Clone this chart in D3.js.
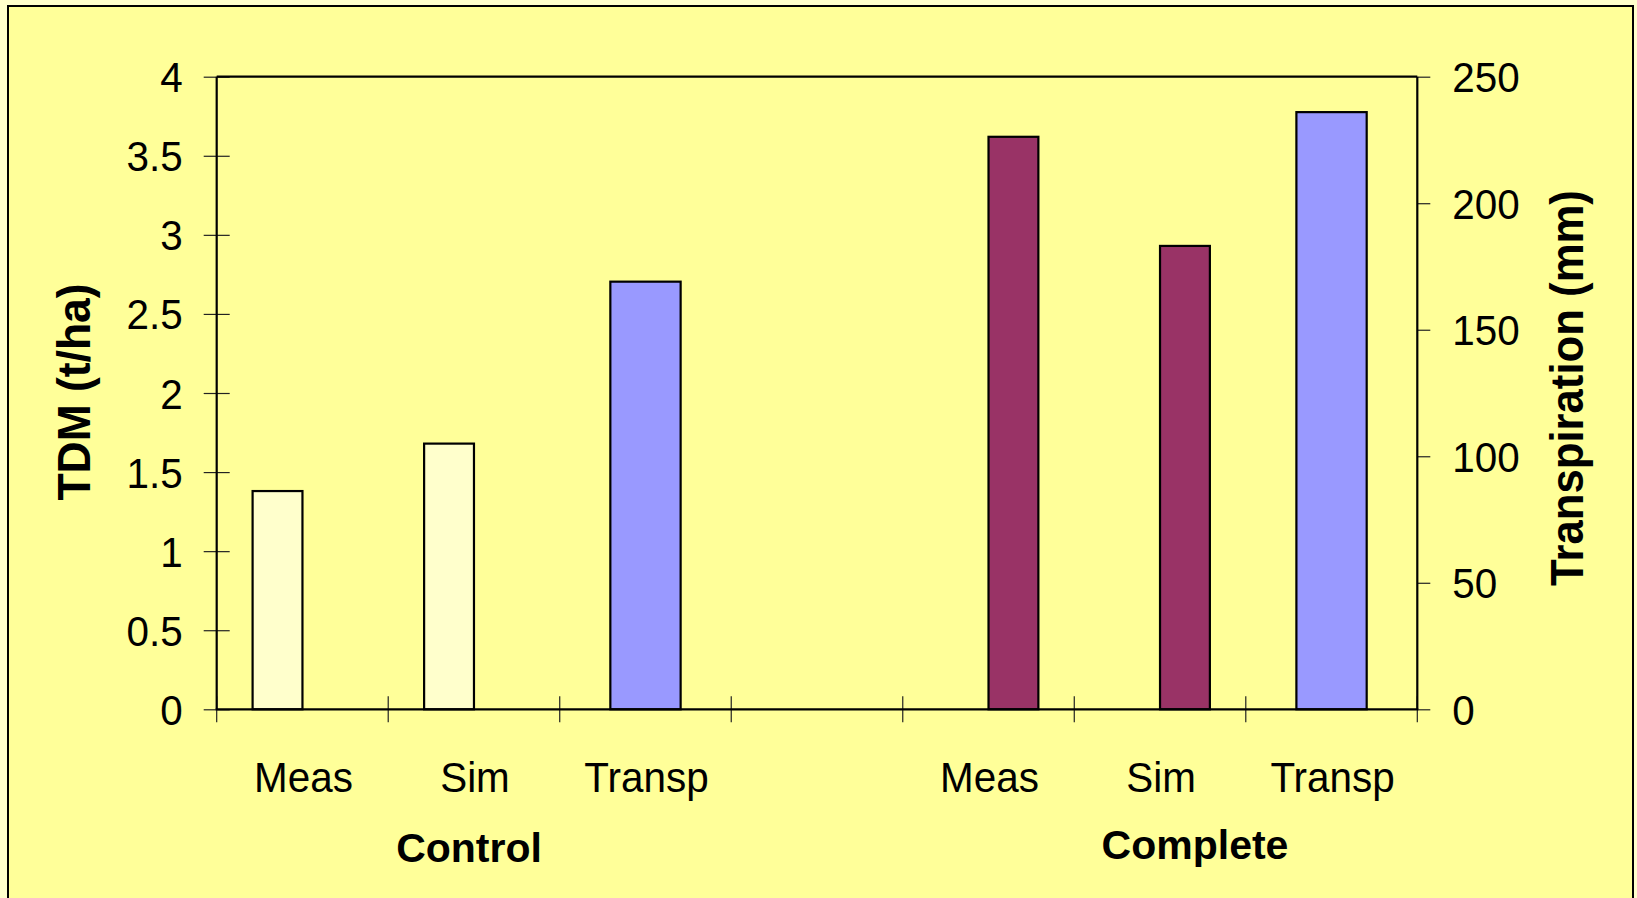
<!DOCTYPE html>
<html>
<head>
<meta charset="utf-8">
<script src="https://cdn.jsdelivr.net/npm/d3@7"></script>
<style>
  html, body { margin: 0; padding: 0; background: #FFFFCC; overflow: hidden; }
  svg { display: block; }
  text { font-family: "Liberation Sans", Arial, sans-serif; fill: #000; }
</style>
</head>
<body>
<svg id="chart" width="1637" height="898"></svg>
<script>
// ---- data ----
const slots = ["Control-Meas", "Control-Sim", "Control-Transp", "gap", "Complete-Meas", "Complete-Sim", "Complete-Transp"];
const slotLabels = ["Meas", "Sim", "Transp", "", "Meas", "Sim", "Transp"];
const groups = ["Control", "Complete"];
const tdmMeas = [1.38, 3.62];      // t/ha
const tdmSim = [1.68, 2.93];       // t/ha
const transpiration = [169, 236];  // mm
const tdmTicks = [0, 0.5, 1, 1.5, 2, 2.5, 3, 3.5, 4];
const transpTicks = [0, 50, 100, 150, 200, 250];
const groupColors = ["#FFFFCC", "#993366"];
const transpColor = "#9999FF";

// ---- layout ----
const W = 1637, H = 898;
const plot = { left: 216.7, right: 1417.3, top: 76.7, bottom: 709.3 };

const svg = d3.select("#chart");

// chart area with its frame
svg.append("rect")
  .attr("x", 8).attr("y", 6)
  .attr("width", 1625).attr("height", H + 20)
  .attr("fill", "#FFFF99")
  .attr("stroke", "#000").attr("stroke-width", 2);

// ---- scales ----
const x = d3.scaleBand().domain(slots).range([plot.left, plot.right]).padding(0);
const yL = d3.scaleLinear().domain([0, 4]).range([plot.bottom, plot.top]);
const yR = d3.scaleLinear().domain([0, 250]).range([plot.bottom, plot.top]);
const xSeries = d3.scaleBand().domain(groups).range([0, x.bandwidth()])
  .paddingInner(0).paddingOuter(0.72);
const xSingle = d3.scaleBand().domain(["Transp"]).range([0, x.bandwidth()])
  .paddingInner(0).paddingOuter(0.72);

// ---- bars ----
const primaryBars = [];
groups.forEach((g, i) => {
  primaryBars.push({ slot: g + "-Meas", series: g, value: tdmMeas[i], color: groupColors[i] });
  primaryBars.push({ slot: g + "-Sim", series: g, value: tdmSim[i], color: groupColors[i] });
});
const secondaryBars = groups.map((g, i) => ({ slot: g + "-Transp", value: transpiration[i] }));

const barG = svg.append("g");
barG.selectAll("rect.tdm")
  .data(primaryBars)
  .join("rect")
  .attr("class", "tdm")
  .attr("x", d => x(d.slot) + xSeries(d.series))
  .attr("width", xSeries.bandwidth())
  .attr("y", d => yL(d.value))
  .attr("height", d => yL(0) - yL(d.value))
  .attr("fill", d => d.color)
  .attr("stroke", "#000").attr("stroke-width", 2.2);

barG.selectAll("rect.transp")
  .data(secondaryBars)
  .join("rect")
  .attr("class", "transp")
  .attr("x", d => x(d.slot) + xSingle("Transp"))
  .attr("width", xSingle.bandwidth())
  .attr("y", d => yR(d.value))
  .attr("height", d => yR(0) - yR(d.value))
  .attr("fill", transpColor)
  .attr("stroke", "#000").attr("stroke-width", 2.2);

// ---- axes ----
const labelSize = 43, labelSquash = 0.94;

// left axis (TDM)
const leftAxis = svg.append("g")
  .attr("transform", `translate(${plot.left},0)`)
  .call(d3.axisLeft(yL).tickValues(tdmTicks).tickFormat(d3.format("")).tickSize(13).tickPadding(0));
leftAxis.select(".domain").remove();
leftAxis.selectAll(".tick line").attr("x1", 13).attr("x2", -13)
  .attr("stroke", "#222").attr("stroke-width", 1.2);
leftAxis.selectAll(".tick text")
  .attr("x", null).attr("dy", null)
  .attr("text-anchor", "end")
  .attr("font-size", labelSize)
  .attr("transform", `translate(-34,15) scale(${labelSquash},1)`);

// right axis (Transpiration)
const rightAxis = svg.append("g")
  .attr("transform", `translate(${plot.right},0)`)
  .call(d3.axisRight(yR).tickValues(transpTicks).tickSize(13).tickPadding(0));
rightAxis.select(".domain").remove();
rightAxis.selectAll(".tick line").attr("stroke", "#222").attr("stroke-width", 1.2);
rightAxis.selectAll(".tick text")
  .attr("x", null).attr("dy", null)
  .attr("text-anchor", "start")
  .attr("font-size", labelSize)
  .attr("transform", `translate(35,15) scale(${labelSquash},1)`);

// category axis: ticks sit on slot boundaries
const boundaries = slots.map(s => x(s)).concat([x.range()[1]]);
const bottomG = svg.append("g");
bottomG.selectAll("line")
  .data(boundaries)
  .join("line")
  .attr("x1", d => d).attr("x2", d => d)
  .attr("y1", plot.bottom - 13).attr("y2", plot.bottom + 13)
  .attr("stroke", "#222").attr("stroke-width", 1.2);
bottomG.selectAll("text")
  .data(slots.map((s, i) => ({ s, label: slotLabels[i] })).filter(d => d.label))
  .join("text")
  .attr("text-anchor", "middle")
  .attr("font-size", labelSize)
  .attr("transform", d => `translate(${x(d.s) + x.bandwidth() / 2 + 1},791.5) scale(${labelSquash},1)`)
  .text(d => d.label);

// plot frame: axis lines and top edge
const frame = svg.append("g").attr("stroke", "#000").attr("stroke-width", 2.2).attr("fill", "none");
frame.append("line").attr("x1", plot.left).attr("x2", plot.left).attr("y1", plot.top).attr("y2", plot.bottom);
frame.append("line").attr("x1", plot.right).attr("x2", plot.right).attr("y1", plot.top).attr("y2", plot.bottom);
frame.append("line").attr("x1", plot.left).attr("x2", plot.right).attr("y1", plot.top).attr("y2", plot.top);
frame.append("line").attr("x1", plot.left - 1).attr("x2", plot.right + 1).attr("y1", plot.bottom).attr("y2", plot.bottom);

// group labels
const groupLabelPos = [{ x: 469, y: 861.5 }, { x: 1195, y: 858.5 }];
svg.selectAll("text.group")
  .data(groups)
  .join("text")
  .attr("class", "group")
  .attr("text-anchor", "middle")
  .attr("font-size", 41)
  .attr("font-weight", "bold")
  .attr("transform", (d, i) => `translate(${groupLabelPos[i].x},${groupLabelPos[i].y})`)
  .text(d => d);

// axis titles
svg.append("text")
  .attr("text-anchor", "middle")
  .attr("font-size", 47)
  .attr("font-weight", "bold")
  .attr("transform", "translate(90,392) rotate(-90) scale(0.945,1)")
  .text("TDM (t/ha)");

svg.append("text")
  .attr("text-anchor", "middle")
  .attr("font-size", 47)
  .attr("font-weight", "bold")
  .attr("transform", "translate(1583,388) rotate(-90) scale(0.93,1)")
  .text("Transpiration (mm)");
</script>
</body>
</html>
